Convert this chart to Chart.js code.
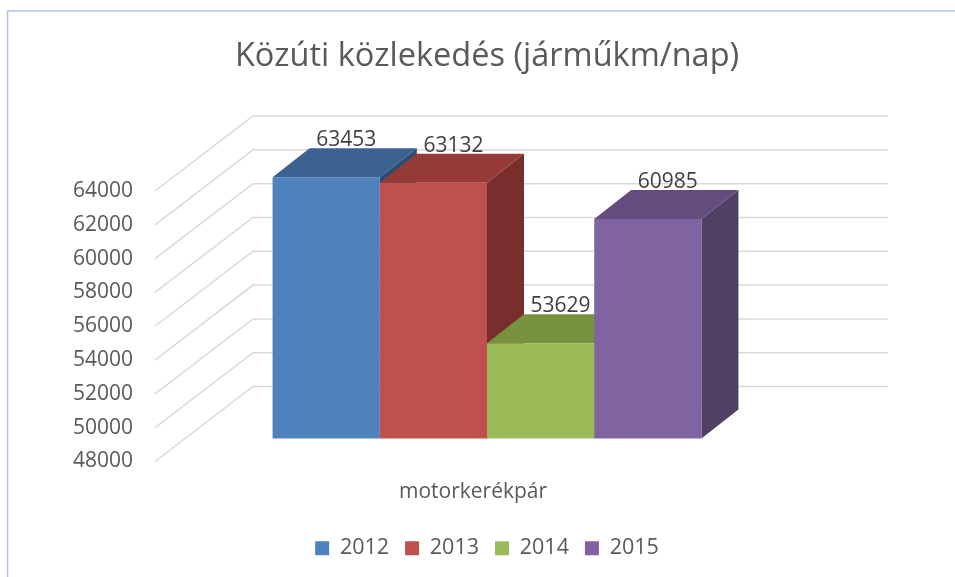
<!DOCTYPE html>
<html>
<head>
<meta charset="utf-8">
<script src="https://cdn.jsdelivr.net/npm/chart.js@4/dist/chart.umd.min.js"></script>
<style>
  body { margin: 0; background: #fff; }
  canvas { display: block; }
</style>
</head>
<body>
<canvas id="myChart" width="955" height="577"></canvas>
<script>
'use strict';

const chartTitle = 'Közúti közlekedés (járműkm/nap)';
const categories = ['motorkerékpár'];
const years = ['2012', '2013', '2014', '2015'];
const values = [63453, 63132, 53629, 60985];
const yMin = 48000;
const yMax = 64000;
const yStep = 2000;

const frontColors = ['#4F81BD', '#C0504D', '#9BBB59', '#8064A2'];
const topColors = ['#3C6292', '#953A37', '#77933F', '#634D7E'];
const sideColors = ['#2E4C72', '#772E2C', '#5F7632', '#504066'];

// 3d look: offset of bar back face, and of the wall planes vs. the bar plane
const barDepth = { dx: 37, dy: -29 };
const frontPlane = { dx: -30, dy: 23 };
const backPlane = { dx: 68, dy: -52 };
const backWallExtra = 31;

const textFont = "'Open Sans', sans-serif";

const depthPlugin = {
  id: 'depth',
  beforeDatasetsDraw(chart) {
    const ctx = chart.ctx;
    const area = chart.chartArea;
    const yScale = chart.scales.y;

    // walls: side wall diagonals + back wall lines
    ctx.save();
    ctx.strokeStyle = '#D9D9D9';
    ctx.lineWidth = 1.5;
    yScale.ticks.forEach(function (tick) {
      const yb = yScale.getPixelForValue(tick.value);
      ctx.beginPath();
      ctx.moveTo(area.left + frontPlane.dx, yb + frontPlane.dy);
      ctx.lineTo(area.left + backPlane.dx, yb + backPlane.dy);
      ctx.lineTo(area.right + backPlane.dx + backWallExtra, yb + backPlane.dy);
      ctx.stroke();
    });
    ctx.restore();

    // side and top faces, left to right
    const base = yScale.getPixelForValue(yScale.min);
    chart.data.datasets.forEach(function (ds, i) {
      const bar = chart.getDatasetMeta(i).data[0];
      const left = bar.x - bar.width / 2;
      const right = bar.x + bar.width / 2;
      const top = bar.y;
      ctx.save();
      ctx.fillStyle = sideColors[i];
      ctx.beginPath();
      ctx.moveTo(right, top);
      ctx.lineTo(right + barDepth.dx, top + barDepth.dy);
      ctx.lineTo(right + barDepth.dx, base + barDepth.dy);
      ctx.lineTo(right, base);
      ctx.closePath();
      ctx.fill();
      ctx.fillStyle = topColors[i];
      ctx.beginPath();
      ctx.moveTo(left, top);
      ctx.lineTo(right, top);
      ctx.lineTo(right + barDepth.dx, top + barDepth.dy);
      ctx.lineTo(left + barDepth.dx, top + barDepth.dy);
      ctx.closePath();
      ctx.fill();
      ctx.restore();
    });
  },
  afterDatasetsDraw(chart) {
    const ctx = chart.ctx;
    ctx.save();
    ctx.font = '21px ' + textFont;
    ctx.fillStyle = '#404040';
    ctx.textAlign = 'center';
    ctx.textBaseline = 'alphabetic';
    chart.data.datasets.forEach(function (ds, i) {
      const bar = chart.getDatasetMeta(i).data[0];
      ctx.fillText(String(ds.data[0]), bar.x + 20, bar.y + barDepth.dy - 2);
    });
    ctx.restore();
  },
  afterDraw(chart) {
    // outer chart frame (left and top edge visible)
    const ctx = chart.ctx;
    ctx.save();
    ctx.strokeStyle = '#B4C5E4';
    ctx.lineWidth = 1.5;
    ctx.beginPath();
    ctx.moveTo(7.5, chart.height);
    ctx.lineTo(7.5, 11);
    ctx.lineTo(chart.width, 11);
    ctx.stroke();
    ctx.restore();
  }
};

const datasets = years.map(function (year, i) {
  return {
    label: year,
    data: [values[i]],
    backgroundColor: frontColors[i],
    borderWidth: 0,
  };
});

const config = {
  type: 'bar',
  data: { labels: categories, datasets: datasets },
  options: {
    responsive: false,
    animation: false,
    categoryPercentage: 0.71,
    barPercentage: 1,
    layout: { padding: { top: 10, right: 166, bottom: 8, left: 0 } },
    plugins: {
      title: {
        display: true,
        text: chartTitle,
        fullSize: false,
        color: '#595959',
        font: { family: textFont, size: 32.5, weight: 'normal', lineHeight: 1.2 },
        padding: { top: 27, bottom: 92 },
      },
      legend: {
        position: 'bottom',
        fullSize: false,
        labels: {
          boxWidth: 14,
          boxHeight: 14,
          padding: 16,
          color: '#595959',
          font: { family: textFont, size: 21.5 },
        },
      },
      tooltip: { enabled: false },
    },
    scales: {
      x: {
        grid: { display: false, drawTicks: false },
        border: { display: false },
        ticks: { color: '#595959', font: { family: textFont, size: 21 }, padding: 41, labelOffset: -14 },
        afterFit(scale) { scale.height = 83; },
      },
      y: {
        min: yMin,
        max: yMax,
        grid: { display: false, drawTicks: false },
        border: { display: false },
        ticks: {
          stepSize: yStep,
          color: '#595959',
          font: { family: textFont, size: 21 },
          padding: 52,
          labelOffset: 23,
          callback: function (v) { return String(v); },
        },
        afterFit(scale) { scale.width = 185; },
      },
    },
  },
  plugins: [depthPlugin],
};

new Chart(document.getElementById('myChart'), config);
</script>
</body>
</html>
